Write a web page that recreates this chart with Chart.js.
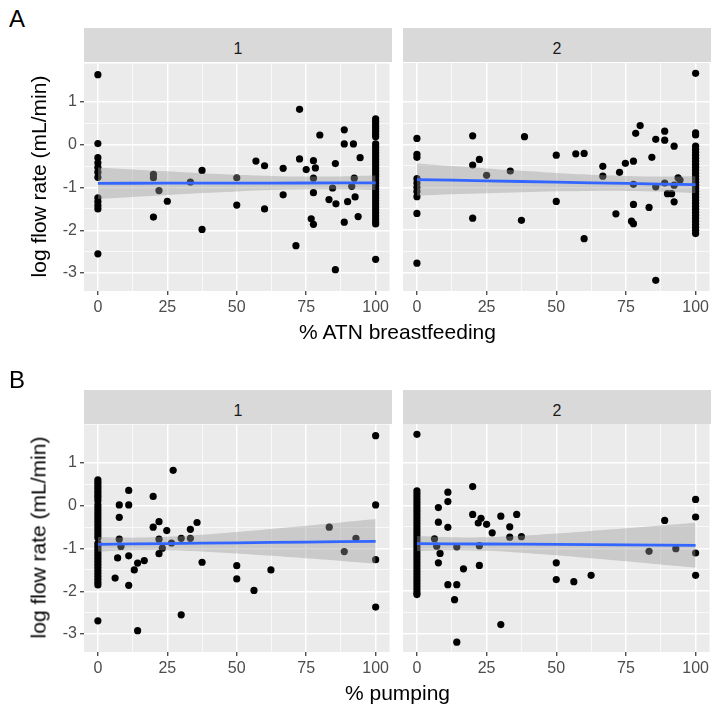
<!DOCTYPE html>
<html>
<head>
<meta charset="utf-8">
<script src="https://cdn.jsdelivr.net/npm/chart.js@4/dist/chart.umd.min.js"></script>
<style>
  html, body { margin: 0; padding: 0; background: #fff; }
  #fig { position: relative; width: 712px; height: 713px; overflow: hidden;
         font-family: 'Liberation Sans', Arial, sans-serif; }
  #fig canvas { position: absolute; }
  .tag { position: absolute; left: 9px; font-size: 24px; line-height: 24px; color: #000; }
  .strip { position: absolute; width: 308px; height: 34px; background: #D9D9D9;
           text-align: center; font-size: 16px; line-height: 41px; color: #1A1A1A; }
  .xtitle { position: absolute; left: 84px; width: 627px; text-align: center;
            font-size: 21px; line-height: 21px; color: #000; }
  .ytitle { position: absolute; width: 300px; height: 21px; text-align: center;
            font-size: 21px; line-height: 21px; color: #000; transform: rotate(-90deg); }
</style>
</head>
<body>
<div id="fig">
  <div class="tag" style="top:7px">A</div>
  <div class="strip" style="left:84px; top:28px">1</div>
  <div class="strip" style="left:403px; top:28px">2</div>
  <canvas id="a1"></canvas>
  <canvas id="a2"></canvas>
  <div class="xtitle" style="top:321px">% ATN breastfeeding</div>
  <div class="ytitle" style="left:-112px; top:166px">log flow rate (mL/min)</div>

  <div class="tag" style="top:368px">B</div>
  <div class="strip" style="left:84px; top:390px">1</div>
  <div class="strip" style="left:403px; top:390px">2</div>
  <canvas id="b1"></canvas>
  <canvas id="b2"></canvas>
  <div class="xtitle" style="top:682px">% pumping</div>
  <div class="ytitle" style="left:-112px; top:527px">log flow rate (mL/min)</div>
</div>
<script>
// axis breaks (minor grid lines sit halfway between majors)
const xMajor = [0, 25, 50, 75, 100];
const yMajor = [-3, -2, -1, 0, 1];
const xLimits = [-5, 105];
const yLimits = [-3.42, 1.9];

// points off the 0 / 100 columns: [x, log flow rate]
const atn1 = [
  [0, 1.64], [0, 0.03], [0, -2.55],
  [20, -0.69], [20, -0.77], [20, -1.69], [22, -1.07], [25, -1.32], [33.3, -0.87],
  [37.5, -0.6], [37.5, -1.98], [50, -0.77], [50, -1.41], [56.9, -0.38], [60, -0.49],
  [60, -1.5], [66.7, -0.55], [66.7, -1.17], [72.6, 0.83], [72.6, -0.33], [71.3, -2.36],
  [75, -0.58], [77.6, -0.37], [78.3, -0.54], [77.6, -0.78], [77.6, -1.12], [76.8, -1.73],
  [77.6, -1.86], [79.9, 0.23], [83.2, -1.28], [84.5, -1.01], [85.5, -0.44], [85.7, -1.38],
  [85.5, -2.92], [88.7, 0.35], [88.7, 0.02], [88.7, -1.81], [89.9, -1.33], [91.4, -0.97],
  [92, 0.02], [92.3, -0.78], [92.6, -1.22], [93.7, -1.68], [94.4, -0.3], [100, -2.68]
];
const atn1At0 = [-0.3, -0.42, -0.53, -0.64, -0.76, -1.24, -1.33, -1.42, -1.5];
const atn1At100 = [0.61, 0.55, 0.49, 0.43, 0.37, 0.31, 0.25, 0.19, 0.02, -0.05, -0.12,
  -0.19, -0.26, -0.33, -0.4, -0.47, -0.54, -0.61, -0.68, -0.75, -0.82, -0.89, -0.96,
  -1.03, -1.1, -1.17, -1.24, -1.31, -1.38, -1.45, -1.52, -1.59, -1.66, -1.73, -1.8, -1.85];

const atn2 = [
  [100, 1.66], [0, 0.14], [0, -0.23], [0, -0.3], [0, -1.61], [0, -2.77],
  [20, 0.2], [20, -0.48], [22.4, -0.35], [20, -1.72], [25, -0.72], [33.5, -0.62],
  [38.6, 0.18], [37.5, -1.77], [50, -0.25], [50, -1.33], [57, -0.22], [60, -0.21],
  [60, -2.2], [66.7, -0.51], [66.7, -0.74], [72.7, -0.65], [71.4, -1.62], [74.8, -0.44],
  [77.7, -0.39], [77.7, -0.93], [77.7, -1.4], [77, -1.79], [77.7, -1.85], [78.5, 0.26],
  [80.1, 0.44], [83.3, -1.47], [84.3, -0.3], [85.7, -0.99], [85.7, -3.17], [85.7, 0.12],
  [88.9, 0.1], [88.9, 0.31], [88.9, -0.9], [89.9, -1.15], [91.4, -1.15], [92.3, -0.04],
  [92.3, -1.34], [92.3, -0.95], [93.7, -0.78], [94.4, -0.83], [100, 0.27], [100, 0.22]
];
const atn2At0 = [-0.8, -0.9, -1.0, -1.1, -1.22];
const atn2At100 = [-0.04, -0.11, -0.18, -0.25, -0.32, -0.39, -0.46, -0.53, -0.6, -0.67,
  -0.74, -0.81, -0.88, -0.95, -1.02, -1.09, -1.16, -1.23, -1.3, -1.37, -1.44, -1.51,
  -1.58, -1.65, -1.72, -1.79, -1.86, -1.93, -2.0, -2.08];

const pump1 = [
  [100, 1.64], [100, 0.02], [100, -1.26], [100, -2.37], [83.3, -0.5], [88.7, -1.07],
  [92.9, -0.76], [0, -2.69], [11.1, 0.36], [7.7, 0.02], [11.1, 0.02], [7.7, -0.27],
  [7.7, -0.78], [8.3, -0.95], [7.1, -1.22], [11.1, -1.17], [6.2, -1.69], [11.1, -1.86],
  [13.1, -1.5], [14.3, -1.34], [16.7, -1.28], [14.3, -2.92], [19.9, 0.22], [19.9, -0.5],
  [22, -0.37], [22, -0.78], [23.2, -0.99], [22, -1.12], [24.8, -0.58], [27.1, 0.83],
  [26.5, -0.87], [30, -0.76], [33.3, -0.76], [33.3, -0.55], [35.7, -0.39], [30, -2.55],
  [37.5, -1.32], [50, -1.4], [50, -1.71], [56.2, -1.98], [62.3, -1.5]
];
const pump1At0 = [0.61, 0.55, 0.49, 0.43, 0.37, 0.31, 0.25, 0.19, 0.12, 0.02, -0.05,
  -0.12, -0.19, -0.26, -0.33, -0.4, -0.47, -0.54, -0.61, -0.68, -0.75, -0.88, -0.95,
  -1.02, -1.09, -1.16, -1.23, -1.3, -1.37, -1.44, -1.51, -1.58, -1.65, -1.72, -1.79, -1.85];

const pump2 = [
  [0, 1.66], [6.3, -0.78], [7.1, -0.95], [8.3, -1.12], [7.7, -1.34], [7.7, -0.05],
  [7.7, -0.39], [11.1, 0.31], [11.1, 0.09], [11.1, -0.51], [14.3, -0.97], [11.1, -1.85],
  [14.3, -1.85], [16.7, -1.48], [13.5, -2.2], [14.3, -3.19], [20, 0.44], [20, -0.21],
  [22.4, -0.94], [22.4, -1.4], [23, -0.3], [22, -0.41], [25, -0.44], [27, -0.64],
  [30.1, -0.25], [30.1, -2.78], [33.3, -0.5], [33.3, -0.74], [35.8, -0.21], [37.5, -0.73],
  [50, -1.34], [50, -1.73], [56.3, -1.78], [62.5, -1.63], [83.3, -1.07], [88.9, -0.35],
  [92.9, -1.01], [100, 0.14], [100, -0.27], [100, -1.11], [100, -1.63]
];
const pump2At0 = [0.34, 0.27, 0.2, 0.13, 0.06, -0.01, -0.08, -0.15, -0.22, -0.29, -0.36,
  -0.43, -0.5, -0.57, -0.64, -0.71, -0.78, -0.85, -0.92, -0.99, -1.06, -1.13, -1.2, -1.27,
  -1.34, -1.41, -1.48, -1.55, -1.62, -1.69, -1.76, -1.83, -1.9, -1.97, -2.04, -2.08];

// linear fits with 95% bands, sampled along x
const fitX = [0, 12.5, 25, 37.5, 50, 62.5, 75, 87.5, 100];
const atn1Fit = [-0.9, -0.899, -0.898, -0.896, -0.895, -0.894, -0.893, -0.891, -0.89];
const atn1Lo = [-1.27, -1.221, -1.173, -1.129, -1.09, -1.059, -1.041, -1.041, -1.06];
const atn1Hi = [-0.53, -0.577, -0.621, -0.663, -0.7, -0.729, -0.743, -0.741, -0.72];
const atn2Fit = [-0.82, -0.835, -0.85, -0.865, -0.88, -0.895, -0.91, -0.925, -0.94];
const atn2Lo = [-1.195, -1.165, -1.14, -1.115, -1.095, -1.085, -1.085, -1.1, -1.14];
const atn2Hi = [-0.445, -0.505, -0.56, -0.615, -0.665, -0.705, -0.735, -0.75, -0.74];
const pump1Fit = [-0.9, -0.891, -0.883, -0.874, -0.865, -0.856, -0.848, -0.839, -0.83];
const pump1Lo = [-1.07, -1.037, -1.04, -1.07, -1.117, -1.171, -1.229, -1.289, -1.35];
const pump1Hi = [-0.73, -0.745, -0.726, -0.678, -0.613, -0.541, -0.467, -0.389, -0.31];
const pump2Fit = [-0.89, -0.895, -0.9, -0.905, -0.91, -0.915, -0.92, -0.925, -0.93];
const pump2Lo = [-1.065, -1.045, -1.06, -1.105, -1.165, -1.235, -1.305, -1.38, -1.455];
const pump2Hi = [-0.715, -0.745, -0.74, -0.705, -0.655, -0.595, -0.535, -0.47, -0.405];

const withMinors = majors => {
  const out = [];
  majors.forEach((v, i) => {
    out.push(v);
    if (i < majors.length - 1) out.push((v + majors[i + 1]) / 2);
  });
  return out;
};

const panelBg = {
  id: 'panelBg',
  beforeDraw(chart) {
    const { ctx, chartArea: a } = chart;
    ctx.save();
    ctx.fillStyle = '#EBEBEB';
    ctx.fillRect(a.left, a.top, a.right - a.left, a.bottom - a.top);
    ctx.restore();
  }
};

const PANEL_H = 228, PAD_TOP = 12, X_AXIS_H = 40;

function gridAxis(majors, limits, labels, fixSize) {
  const isMajor = v => majors.includes(v);
  return {
    type: 'linear',
    min: limits[0],
    max: limits[1],
    border: { display: false },
    afterBuildTicks: axis => { axis.ticks = withMinors(majors).map(v => ({ value: v })); },
    afterFit: fixSize,
    grid: {
      color: '#FFFFFF',
      lineWidth: c => (c.tick && isMajor(c.tick.value) ? 1.5 : 0.7),
      drawTicks: labels,
      tickLength: 4,
      tickWidth: 1.2,
      tickColor: c => (c.tick && isMajor(c.tick.value) ? '#333333' : 'rgba(0,0,0,0)')
    },
    ticks: {
      display: labels,
      autoSkip: false,
      maxRotation: 0,
      padding: 3,
      color: '#4D4D4D',
      font: { family: "'Liberation Sans', Arial, sans-serif", size: 16 },
      callback: v => (isMajor(v) ? String(v) : '')
    }
  };
}

function facet(id, left, top, showY, pts, at0, at100, fit, lo, hi) {
  const canvas = document.getElementById(id);
  const yAxisW = showY ? 84 : 0;
  const w = showY ? 392 : 309;
  const h = PAD_TOP + PANEL_H + X_AXIS_H;
  canvas.width = w; canvas.height = h;
  canvas.style.width = w + 'px'; canvas.style.height = h + 'px';
  canvas.style.left = left + 'px'; canvas.style.top = (top - PAD_TOP) + 'px';

  const points = pts.map(([x, y]) => ({ x, y }))
    .concat(at0.map(y => ({ x: 0, y })), at100.map(y => ({ x: 100, y })));
  const curve = vals => fitX.map((x, i) => ({ x, y: vals[i] }));

  new Chart(canvas, {
    type: 'line',
    data: {
      datasets: [
        { data: curve(fit), borderColor: '#3366FF', borderWidth: 2.8, pointRadius: 0, fill: false },
        { data: curve(hi), borderColor: 'rgba(0,0,0,0)', borderWidth: 0, pointRadius: 0,
          tension: 0.3, fill: '+1', backgroundColor: 'rgba(153,153,153,0.4)' },
        { data: curve(lo), borderColor: 'rgba(0,0,0,0)', borderWidth: 0, pointRadius: 0,
          tension: 0.3, fill: false },
        { data: points, showLine: false, pointRadius: 3.6, pointBorderWidth: 0,
          pointBackgroundColor: '#000000', borderColor: '#000000' }
      ]
    },
    options: {
      responsive: false,
      animation: false,
      events: [],
      layout: { autoPadding: false, padding: { top: PAD_TOP, left: 0, right: showY ? 0 : 1, bottom: 0 } },
      plugins: { legend: { display: false }, tooltip: { enabled: false } },
      scales: {
        x: gridAxis(xMajor, xLimits, true, s => { s.height = X_AXIS_H; }),
        y: gridAxis(yMajor, yLimits, showY, s => { s.width = yAxisW; })
      }
    },
    plugins: [panelBg]
  });
}

facet('a1', 0, 63, true, atn1, atn1At0, atn1At100, atn1Fit, atn1Lo, atn1Hi);
facet('a2', 403, 63, false, atn2, atn2At0, atn2At100, atn2Fit, atn2Lo, atn2Hi);
facet('b1', 0, 424, true, pump1, pump1At0, [], pump1Fit, pump1Lo, pump1Hi);
facet('b2', 403, 424, false, pump2, pump2At0, [], pump2Fit, pump2Lo, pump2Hi);
</script>
</body>
</html>
